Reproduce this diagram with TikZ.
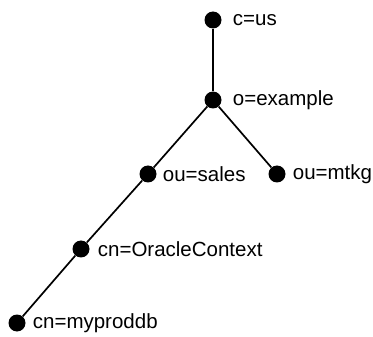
\documentclass[tikz,border=0pt]{standalone}
\usepackage{fontspec}
\setmainfont{Liberation Sans}
\usetikzlibrary{positioning}
\tikzset{
  dot/.style={circle,fill=black,inner sep=0pt,minimum size=17pt},
  lbl/.style={inner sep=0pt,anchor=west,font=\fontsize{20.5}{23}\selectfont},
  edge/.style={line width=1.7pt}
}
\begin{document}
\begin{tikzpicture}[x=1pt,y=-1pt]
   \useasboundingbox (0,0) rectangle (373,337);
   %NODES
   \node[dot] (us) at (213,20) {};
   \node[dot] (example) at (213,100) {};
   \node[dot] (sales) at (148,174) {};
   \node[dot] (mtkg) at (277,174) {};
   \node[dot] (oracle) at (81,249) {};
   \node[dot] (myproddb) at (17,323) {};

   %LABELS
   \node[lbl, right=11pt of us] (uslbl) {c=us};
   \node[lbl, right=11pt of example] (examplelbl) {o=example};
   \node[lbl, right=6pt of sales] (saleslbl) {ou=sales};
   \node[lbl, right=7pt of mtkg] (mtkglbl) {ou=mtkg};
   \node[lbl, right=8pt of oracle] (oraclelbl) {cn=OracleContext};
   \node[lbl, right=7pt of myproddb] (myproddblbl) {cn=myproddb};

   %EDGES
   \draw[edge] (us) -- (example);
   \draw[edge] (example) -- (sales);
   \draw[edge] (example) -- (mtkg);
   \draw[edge] (sales) -- (oracle);
   \draw[edge] (oracle) -- (myproddb);
\end{tikzpicture}
\end{document}
